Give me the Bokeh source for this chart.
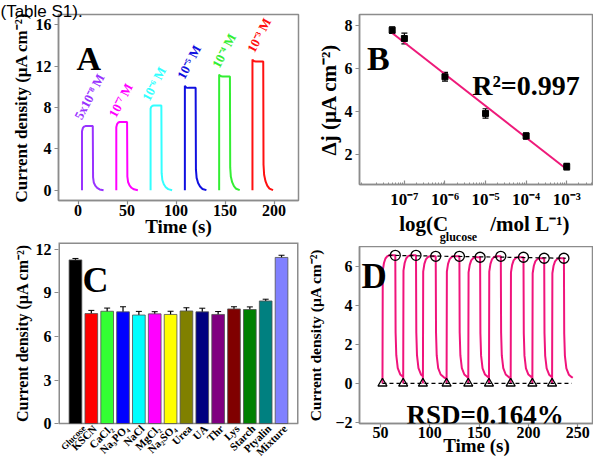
import math
import numpy as np
from bokeh.plotting import figure
from bokeh.layouts import row, column
from bokeh.models import (FixedTicker, Label, LabelSet, Whisker, ColumnDataSource, Range1d,
                          LinearAxis, Title)
from bokeh.embed import file_html
from bokeh.resources import INLINE

SERIF = "Liberation Serif"
GRAY = "#8c8c8c"
NB = "\u00a0"

# ---------------- Panel A : amperometric pulses for each concentration
A_rise_t = [4, 39, 74, 109, 144, 178]
A_drop_t = [15, 50, 85, 120, 155, 189]
A_end_t = [26, 61, 96, 131, 165, 199]
A_jump = [5.7, 6.1, 7.9, 10.1, 11.2, 12.65]
A_plateau = [6.2, 6.6, 8.2, 9.9, 11.0, 12.45]
A_colors = ["#9933ff", "#ff00ff", "#33ffff", "#1010e0", "#33ee33", "#ff1010"]
A_labels = ["5x10⁻⁸ M", "10⁻⁷ M", "10⁻⁶ M", "10⁻⁵ M", "10⁻⁴ M", "10⁻³ M"]
A_label_x = [6.5, 41.5, 75.6, 111.3, 147, 182.7]
A_label_y = [6.6, 6.8, 8.4, 10.5, 11.6, 13.1]
# trace shape (settling after the jump, decay after switching off)
A_settle_dt = [0.0, 0.8, 2.0, 3.5]
A_settle_frac = [0.0, 0.6, 0.9, 1.0]
A_decay_dt = [0, 0.3, 1, 2.5, 4.5, 7, 11]
A_decay_frac = [1, 0.2, 0.12, 0.07, 0.035, 0.012, 0]

# ---------------- Panel B : calibration
B_conc = [5e-8, 1e-7, 1e-6, 1e-5, 1e-4, 1e-3]
B_dj = [7.77, 7.38, 5.60, 3.89, 2.84, 1.41]
B_err = [0.15, 0.25, 0.20, 0.22, 0.15, 0.15]
B_fit_conc = [5e-8, 1e-3]
B_fit_dj = [7.64, 1.29]
B_ticks = [-7, -6, -5, -4, -3]
B_tick_labels = ["10⁻⁷", "10⁻⁶", "10⁻⁵", "10⁻⁴", "10⁻³"]

# ---------------- Panel C : interference
C_names = ["Glucose", "KSCN", "CaCl₂", "Na₃PO₄", "NaCl", "MgCl₂", "Na₂SO₄",
           "Urea", "UA", "Thr", "Lys", "Starch", "Ptyalin", "Mixture"]
C_vals = [11.28, 7.58, 7.74, 7.70, 7.48, 7.56, 7.52, 7.76, 7.70, 7.52, 7.90, 7.86, 8.45, 11.45]
C_err = [0.10, 0.22, 0.22, 0.35, 0.25, 0.15, 0.22, 0.22, 0.25, 0.20, 0.15, 0.18, 0.12, 0.15]
C_colors = ["#000000", "#ff0000", "#33ff33", "#0000ff", "#00ffff", "#ff00ff", "#ffff00",
            "#808000", "#000080", "#800080", "#800000", "#008000", "#008080", "#8080ff"]
C_xlim = [-1.07, 14.07]
C_ylim = [0, 12.48]

# ---------------- Panel D : repeated pulses
D_on = [52, 73, 93, 117, 139, 160, 182, 204, 224]
D_off = [65, 86, 106, 130, 151, 172, 195, 216, 236]
D_peak = [6.55, 6.55, 6.5, 6.5, 6.45, 6.5, 6.45, 6.4, 6.4]
D_end = 245
D_rise_dt = [0, 0.3, 1.5, 3, 5, 7]
D_rise_frac = [0, 0.88, 0.94, 0.975, 0.993, 1]
D_decay_dt = [0, 0.3, 1, 2.5, 5, 8, 10]
D_decay_frac = [1, 0.4, 0.22, 0.12, 0.07, 0.05, 0.04]
D_top_x = [58, 238]
D_bot_x = [52, 244]


def style(p, size=16):
    p.outline_line_color = GRAY
    p.outline_line_width = 1.5
    p.xgrid.grid_line_color = None
    p.ygrid.grid_line_color = None
    p.border_fill_color = "white"
    for ax in p.axis:
        ax.axis_line_color = GRAY
        ax.axis_line_width = 1.5
        ax.major_tick_line_color = GRAY
        ax.major_tick_line_width = 1.2
        ax.minor_tick_line_color = None
        ax.major_tick_out = 4
        ax.major_tick_in = 0
        ax.major_label_text_font = SERIF
        ax.major_label_text_font_style = "bold"
        ax.major_label_text_font_size = f"{size}px"
        ax.major_label_text_color = "black"
        ax.axis_label_text_font = SERIF
        ax.axis_label_text_font_style = "bold"
        ax.axis_label_text_font_size = "17px"
        ax.axis_label_text_color = "black"
        ax.axis_label_standoff = 2
        ax.major_label_standoff = 3


def text_label(p, x, y, text, size, align="left", color="black"):
    p.add_layout(Label(x=x, y=y, text=text, text_font=SERIF, text_font_style="bold",
                       text_font_size=f"{size}px", text_color=color,
                       text_baseline="alphabetic", text_align=align))


# ================= Panel A
pA = figure(width=300, height=240, x_range=Range1d(-20, 225), y_range=Range1d(-1, 17),
            output_backend="svg", toolbar_location=None,
            min_border_left=58, min_border_right=2, min_border_top=14, min_border_bottom=40)
style(pA)
pA.xaxis.ticker = FixedTicker(ticks=[0, 50, 100, 150, 200])
pA.yaxis.ticker = FixedTicker(ticks=[0, 4, 8, 12, 16])
pA.xaxis.axis_label = "Time (s)"
pA.xaxis.axis_label_text_font_size = "19px"
pA.xaxis.major_label_standoff = 0
pA.xaxis.axis_label_standoff = -3
pA.yaxis.axis_label = "Current density (μA cm⁻²)"
# cropped caption fragment visible at the very top of the picture
pA.add_layout(Title(text="(Table S1).", align="left", offset=-58, standoff=-12,
                    text_font="Liberation Sans", text_font_style="normal",
                    text_font_size="17px", text_color="black"), "above")
for i in range(len(A_rise_t)):
    t0, t1, t2 = A_rise_t[i], A_drop_t[i], A_end_t[i]
    j0, j1 = A_jump[i], A_plateau[i]
    sc = (t2 - t1) / A_decay_dt[-1]
    xs = [t0] + [t0 + d for d in A_settle_dt] + [t1] + [t1 + d * sc for d in A_decay_dt]
    ys = [0] + [j0 + f * (j1 - j0) for f in A_settle_frac] + [j1] + [j1 * f for f in A_decay_frac]
    pA.line(xs, ys, line_color=A_colors[i], line_width=2)
    pA.add_layout(Label(x=A_label_x[i], y=A_label_y[i], text=A_labels[i], angle=1.08,
                        text_font=SERIF, text_font_style="bold", text_font_size="13px",
                        text_color=A_colors[i], text_align="left", text_baseline="bottom"))
text_label(pA, -1.6, 12.7, "A", 34)

# ================= Panel B
pB = figure(width=293, height=246, x_range=Range1d(-8.106, -2.34), y_range=Range1d(0.58, 8.5),
            output_backend="svg", toolbar_location=None,
            min_border_left=48, min_border_right=0, min_border_top=14, min_border_bottom=61)
style(pB)
minor = [math.log10(k * 10.0 ** e) for e in range(-9, -2) for k in range(2, 10)]
pB.xaxis.ticker = FixedTicker(ticks=B_ticks, minor_ticks=minor)
pB.xaxis.major_label_overrides = {t: s for t, s in zip(B_ticks, B_tick_labels)}
pB.xaxis.major_tick_out = 0
pB.xaxis.major_tick_in = 4
pB.xaxis.minor_tick_line_color = GRAY
pB.xaxis.minor_tick_in = 2
pB.xaxis.minor_tick_out = 0
pB.xaxis.major_label_standoff = 5
pB.xaxis.major_label_text_font_size = "17px"
pB.xaxis.axis_label = NB * 3 + "log(C" + NB * 8 + "/mol L⁻¹)"
pB.xaxis.axis_label_text_font_size = "21px"
pB.xaxis.axis_label_standoff = 0
pB.yaxis.ticker = FixedTicker(ticks=[2, 4, 6, 8])
pB.yaxis.axis_label_standoff = 1
pB.yaxis.axis_label = "Δj (μA cm⁻²)"
pB.yaxis.axis_label_text_font_size = "21px"
# subscript of the x-axis title, carried by a tick-less extra axis
sub_ax = LinearAxis(ticker=FixedTicker(ticks=[]), axis_line_color=None,
                    major_tick_line_color=None, major_tick_out=0, major_label_standoff=0,
                    axis_label="glucose" + NB * 12, axis_label_standoff=-9,
                    axis_label_text_font=SERIF, axis_label_text_font_style="bold",
                    axis_label_text_font_size="12px", axis_label_text_color="black")
pB.add_layout(sub_ax, "below")
bx = list(np.log10(B_conc))
srcB = ColumnDataSource(dict(x=bx, y=B_dj, lo=[v - e for v, e in zip(B_dj, B_err)],
                             hi=[v + e for v, e in zip(B_dj, B_err)]))
pB.line(list(np.log10(B_fit_conc)), B_fit_dj, line_color="#ee1a7a", line_width=2)
wB = Whisker(base="x", lower="lo", upper="hi", source=srcB, line_color="black", line_width=1.2)
wB.upper_head.size = 6
wB.lower_head.size = 6
wB.upper_head.line_width = 1.2
wB.lower_head.line_width = 1.2
pB.add_layout(wB)
pB.scatter("x", "y", source=srcB, marker="square", size=6, color="black")
text_label(pB, -7.92, 6.45, "B", 34)
text_label(pB, -5.33, 5.21, "R²=0.997", 28)

# ================= Panel C  (frame reaches the bottom so that the slanted category
# names, drawn below zero, stay visible; the plotting box is drawn at 0..12.48)
pC = figure(width=300, height=219, x_range=Range1d(C_xlim[0], C_xlim[1]),
            y_range=Range1d(-2.48, C_ylim[1]),
            output_backend="svg", toolbar_location=None,
            min_border_left=58, min_border_right=2, min_border_top=2, min_border_bottom=0)
style(pC)
pC.outline_line_color = None
pC.xaxis.visible = False
pC.yaxis.axis_line_color = None
pC.yaxis.ticker = FixedTicker(ticks=[0, 3, 6, 9, 12])
pC.yaxis.axis_label = NB * 9 + "Current density (μA cm⁻²)"
pC.yaxis.axis_label_text_font_size = "16px"
# box: top/left/right edges lie on the frame border (half clipped), bottom edge at zero
pC.multi_line([[C_xlim[0], C_xlim[0], C_xlim[1], C_xlim[1]]],
              [[C_ylim[0], C_ylim[1], C_ylim[1], C_ylim[0]]], line_color=GRAY, line_width=3)
pC.line(C_xlim, [C_ylim[0], C_ylim[0]], line_color=GRAY, line_width=1.5)
cx = list(range(len(C_names)))
# first name is set a little smaller and further right so it stays inside the panel
lab_dx = [0.55] + [0.22] * (len(cx) - 1)
lab_fs = ["9px"] + ["11px"] * (len(cx) - 1)
srcC = ColumnDataSource(dict(x=cx, top=C_vals, color=C_colors, name=C_names,
                             lx=[v + d for v, d in zip(cx, lab_dx)], ly=[-0.22] * len(cx),
                             fs=lab_fs,
                             lo=[v - e for v, e in zip(C_vals, C_err)],
                             hi=[v + e for v, e in zip(C_vals, C_err)]))
pC.vbar(x="x", top="top", width=0.8, bottom=0, fill_color="color", line_color="#505050",
        line_width=0.8, source=srcC)
wC = Whisker(base="x", lower="lo", upper="hi", source=srcC, line_color="black", line_width=1.2)
wC.upper_head.size = 6
wC.lower_head.size = 6
pC.add_layout(wC)
pC.add_layout(LabelSet(x="lx", y="ly", text="name", source=srcC, angle=math.pi / 4,
                       text_font=SERIF, text_font_style="bold", text_font_size="fs",
                       text_color="black", text_align="right", text_baseline="middle"))
text_label(pC, 0.44, 9.88, "C", 36)

# ================= Panel D
pD = figure(width=293, height=213, x_range=Range1d(28.7, 266), y_range=Range1d(-2.05, 7),
            output_backend="svg", toolbar_location=None,
            min_border_left=59, min_border_right=0, min_border_top=0, min_border_bottom=36)
style(pD)
pD.xaxis.ticker = FixedTicker(ticks=[50, 100, 150, 200, 250])
pD.yaxis.ticker = FixedTicker(ticks=[-2, 0, 2, 4, 6])
pD.xaxis.axis_label = "Time (s)"
pD.xaxis.axis_label_text_font_size = "19px"
pD.xaxis.major_label_standoff = -1
pD.xaxis.axis_label_standoff = -6
pD.yaxis.axis_label = "Current density (μA cm⁻²)"
pD.yaxis.axis_label_text_font_size = "15.5px"
pD.yaxis.axis_label_standoff = 8
xs, ys = [], []
start_val = 0.0
for i in range(len(D_on)):
    t0, t1, pk = D_on[i], D_off[i], D_peak[i]
    nxt = D_on[i + 1] if i + 1 < len(D_on) else D_end
    xs.append(t0); ys.append(start_val)
    for d, f in zip(D_rise_dt, D_rise_frac):
        xs.append(t0 + d); ys.append(start_val + f * (pk - start_val))
    for d, f in zip(D_decay_dt, D_decay_frac):
        if t1 + d <= nxt:
            xs.append(t1 + d); ys.append(pk * f)
    end_val = pk * float(np.interp(nxt - t1, D_decay_dt, D_decay_frac))
    xs.append(nxt); ys.append(end_val)
    start_val = 0.0
pD.line(xs, ys, line_color="#f0147c", line_width=2)
pD.line(D_top_x, [D_peak[0], D_peak[-1]], line_color="black", line_width=1.2, line_dash="4 3")
pD.line(D_bot_x, [0, 0], line_color="black", line_width=1.2, line_dash="4 3")
pD.scatter(D_off, D_peak, marker="circle", size=10, fill_color=None, line_color="black",
           line_width=1.3)
pD.scatter(D_on, [0] * len(D_on), marker="triangle", size=9, fill_color=None,
           line_color="black", line_width=1.3)
text_label(pD, 30.7, 5.47, "D", 35)
text_label(pD, 76.4, -1.64, "RSD=0.164%", 27)

layout = row(column(pA, pC), column(pB, pD))
open("out.html", "w").write(file_html(layout, INLINE))
